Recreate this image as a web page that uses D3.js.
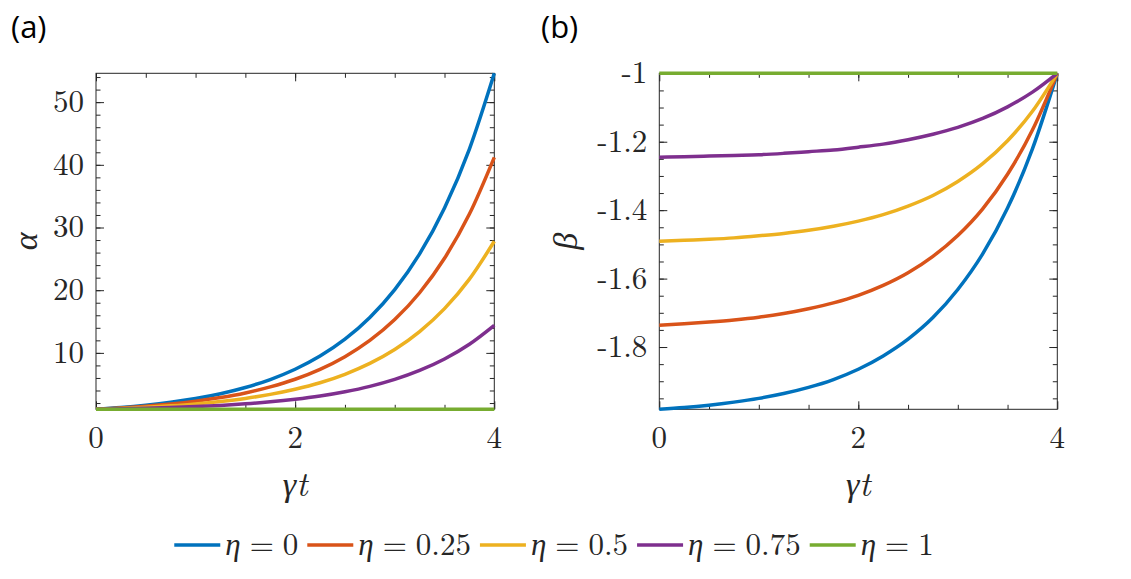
<!DOCTYPE html>
<html>
<head>
<meta charset="utf-8">
<script src="https://cdn.jsdelivr.net/npm/d3@7"></script>
<style>
  body { margin: 0; background: #fff; }
  svg { display: block; }
</style>
</head>
<body>
<script>
// time axis (gamma t)
let tValues = [0, 0.25, 0.5, 0.75, 1, 1.25, 1.5, 1.75, 2, 2.25, 2.5, 2.75, 3, 3.25, 3.5, 3.75, 4];

// legend labels and colours (one per eta)
let etaLabels = ["0", "0.25", "0.5", "0.75", "1"];
let etaColors = ["#0072BD", "#D95319", "#EDB120", "#7E2F8E", "#77AC30"];

// panel (a): alpha
let alphaEta0   = [1, 1.28, 1.65, 2.12, 2.72, 3.49, 4.48, 5.75, 7.39, 9.49, 12.18, 15.64, 20.09, 25.79, 33.12, 42.52, 54.6];
let alphaEta025 = [1, 1.21, 1.49, 1.84, 2.29, 2.87, 3.61, 4.57, 5.79, 7.37, 9.39, 11.98, 15.31, 19.59, 25.09, 32.14, 41.2];
let alphaEta05  = [1, 1.14, 1.32, 1.56, 1.86, 2.25, 2.74, 3.38, 4.2, 5.24, 6.59, 8.32, 10.54, 13.4, 17.06, 21.76, 27.8];
let alphaEta075 = [1, 1.07, 1.16, 1.28, 1.43, 1.62, 1.87, 2.19, 2.6, 3.12, 3.8, 4.66, 5.77, 7.2, 9.03, 11.38, 14.4];
let alphaEta1   = [1, 1, 1, 1, 1, 1, 1, 1, 1, 1, 1, 1, 1, 1, 1, 1, 1];

// panel (b): beta
let betaEta0   = [-1.982, -1.977, -1.97, -1.961, -1.95, -1.936, -1.918, -1.895, -1.865, -1.826, -1.777, -1.714, -1.632, -1.528, -1.394, -1.221, -1];
let betaEta025 = [-1.736, -1.732, -1.727, -1.721, -1.713, -1.702, -1.688, -1.671, -1.649, -1.62, -1.583, -1.535, -1.474, -1.396, -1.295, -1.166, -1];
let betaEta05  = [-1.491, -1.488, -1.485, -1.481, -1.475, -1.468, -1.459, -1.447, -1.432, -1.413, -1.388, -1.357, -1.316, -1.264, -1.197, -1.111, -1];
let betaEta075 = [-1.245, -1.244, -1.242, -1.24, -1.238, -1.234, -1.229, -1.224, -1.216, -1.207, -1.194, -1.178, -1.158, -1.132, -1.098, -1.055, -1];
let betaEta1   = [-1, -1, -1, -1, -1, -1, -1, -1, -1, -1, -1, -1, -1, -1, -1, -1, -1];

// tick values / labels
let xTicks = [0, 2, 4];
let alphaTicks = [10, 20, 30, 40, 50];
let betaTicks = [-1, -1.2, -1.4, -1.6, -1.8];
let betaTickLabels = ["-1", "-1.2", "-1.4", "-1.6", "-1.8"];

let alphaSeries = [alphaEta0, alphaEta025, alphaEta05, alphaEta075, alphaEta1];
let betaSeries = [betaEta0, betaEta025, betaEta05, betaEta075, betaEta1];

let serif = "'Latin Modern Roman', 'Liberation Serif', 'DejaVu Serif', serif";
let axisColor = "#262626";

let svg = d3.select("body")
			.append("svg")
			.attr("width", 1131)
			.attr("height", 579);

// draws one boxed panel with inward ticks on all four sides
function drawPanel(opts) {
	let width = opts.width, height = opts.height;

	let xScale = d3.scaleLinear().domain([0, 4]).range([0, width]);
	let yScale = d3.scaleLinear().domain(opts.yDomain).range([height, 0]);

	let g = svg.append("g")
			   .attr("transform", "translate(" + opts.left + "," + opts.top + ")");

	// minor ticks first, majors on top
	let xMinor = d3.range(0.5, 4, 0.5);
	let sides = [
		{axis: d3.axisBottom, at: "translate(0," + height + ")", scale: xScale},
		{axis: d3.axisTop, at: "translate(0,0)", scale: xScale},
		{axis: d3.axisLeft, at: "translate(0,0)", scale: yScale},
		{axis: d3.axisRight, at: "translate(" + width + ",0)", scale: yScale}
	];
	sides.forEach(function(s, i) {
		let minorVals = i < 2 ? xMinor : opts.yMinor;
		let majorVals = i < 2 ? xTicks : opts.yTicks;
		g.append("g").attr("transform", s.at)
		 .call(s.axis(s.scale).tickValues(minorVals).tickSize(-4.5).tickFormat(""));
		g.append("g").attr("transform", s.at)
		 .call(s.axis(s.scale).tickValues(majorVals).tickSize(-8).tickFormat(""));
	});
	g.selectAll(".domain").remove();
	g.selectAll(".tick line").attr("stroke", axisColor).attr("stroke-width", 1);

	// tick labels
	g.append("g").selectAll("text")
	 .data(xTicks)
	 .join("text")
	 .attr("x", function(d) { return xScale(d); })
	 .attr("y", height + 39)
	 .attr("text-anchor", "middle")
	 .style("font-family", serif)
	 .style("font-size", "31px")
	 .attr("fill", axisColor)
	 .text(function(d) { return d; });

	g.append("g").selectAll("text")
	 .data(opts.yTicks)
	 .join("text")
	 .attr("x", -12)
	 .attr("y", function(d) { return yScale(d); })
	 .attr("dy", "0.32em")
	 .attr("text-anchor", "end")
	 .style("font-family", serif)
	 .style("font-size", "31px")
	 .attr("fill", axisColor)
	 .text(function(d, i) { return opts.yLabels[i]; });

	// box
	g.append("rect")
	 .attr("width", width)
	 .attr("height", height)
	 .attr("fill", "none")
	 .attr("stroke", axisColor)
	 .attr("stroke-width", 1);

	// curves
	let line = d3.line()
				 .x(function(d, i) { return xScale(tValues[i]); })
				 .y(function(d) { return yScale(d); })
				 .curve(d3.curveMonotoneX);

	g.append("g").selectAll("path")
	 .data(opts.series)
	 .join("path")
	 .attr("d", line)
	 .attr("fill", "none")
	 .attr("stroke", function(d, i) { return etaColors[i]; })
	 .attr("stroke-width", 3.5)
	 .attr("stroke-linecap", "butt");

	// axis labels
	g.append("text")
	 .attr("x", width / 2)
	 .attr("y", height + 87)
	 .attr("text-anchor", "middle")
	 .style("font-family", serif)
	 .style("font-style", "italic")
	 .style("font-size", "34px")
	 .attr("fill", axisColor)
	 .text("γt");

	g.append("text")
	 .attr("transform", "translate(" + opts.yLabelX + "," + (height / 2) + ") rotate(-90)")
	 .attr("text-anchor", "middle")
	 .attr("dy", "0.3em")
	 .style("font-family", serif)
	 .style("font-style", "italic")
	 .style("font-size", "34px")
	 .attr("fill", axisColor)
	 .text(opts.yName);

	// panel letter
	svg.append("text")
	   .attr("x", opts.tagX)
	   .attr("y", 38)
	   .style("font-family", "'Open Sans', 'Noto Sans', sans-serif")
	   .style("font-size", "31px")
	   .attr("fill", "#000")
	   .text(opts.tag);
}

drawPanel({
	left: 96, top: 73.3, width: 398.3, height: 336,
	yDomain: [1, 54.6],
	yTicks: alphaTicks,
	yLabels: alphaTicks.map(String),
	yMinor: d3.range(2, 55, 2),
	series: alphaSeries,
	yName: "α",
	yLabelX: -69,
	tag: "(a)", tagX: 11
});

drawPanel({
	left: 659.3, top: 73.3, width: 398, height: 336,
	yDomain: [-1.982, -1],
	yTicks: betaTicks,
	yLabels: betaTickLabels,
	yMinor: d3.range(-1.95, -1.0, 0.05),
	series: betaSeries,
	yName: "β",
	yLabelX: -93,
	tag: "(b)", tagX: 541
});

// legend, laid out left to right and centred below the panels
let legend = svg.append("g");
let legendY = 545;
let lineLen = 46;
let items = legend.selectAll("g")
				  .data(etaLabels)
				  .join("g");

items.append("line")
	 .attr("x1", 0).attr("x2", lineLen)
	 .attr("y1", 0).attr("y2", 0)
	 .attr("stroke", function(d, i) { return etaColors[i]; })
	 .attr("stroke-width", 3.5);

let labels = items.append("text")
				  .attr("x", lineLen + 5)
				  .attr("y", 10)
				  .style("font-family", serif)
				  .style("font-size", "31px")
				  .attr("fill", axisColor);
labels.append("tspan").style("font-style", "italic").text("η");
labels.append("tspan").attr("dx", 9).text("=");
labels.append("tspan").attr("dx", 9).text(function(d) { return d; });

// use the real box of each item so the spacing matches
let widths = [];
items.each(function() { widths.push(this.getBBox().width); });
let gap = 9;
let total = d3.sum(widths) + gap * (widths.length - 1);
let cursor = 554 - total / 2;
items.attr("transform", function(d, i) {
	let x = cursor;
	cursor += widths[i] + gap;
	return "translate(" + x + "," + legendY + ")";
});
</script>
</body>
</html>
